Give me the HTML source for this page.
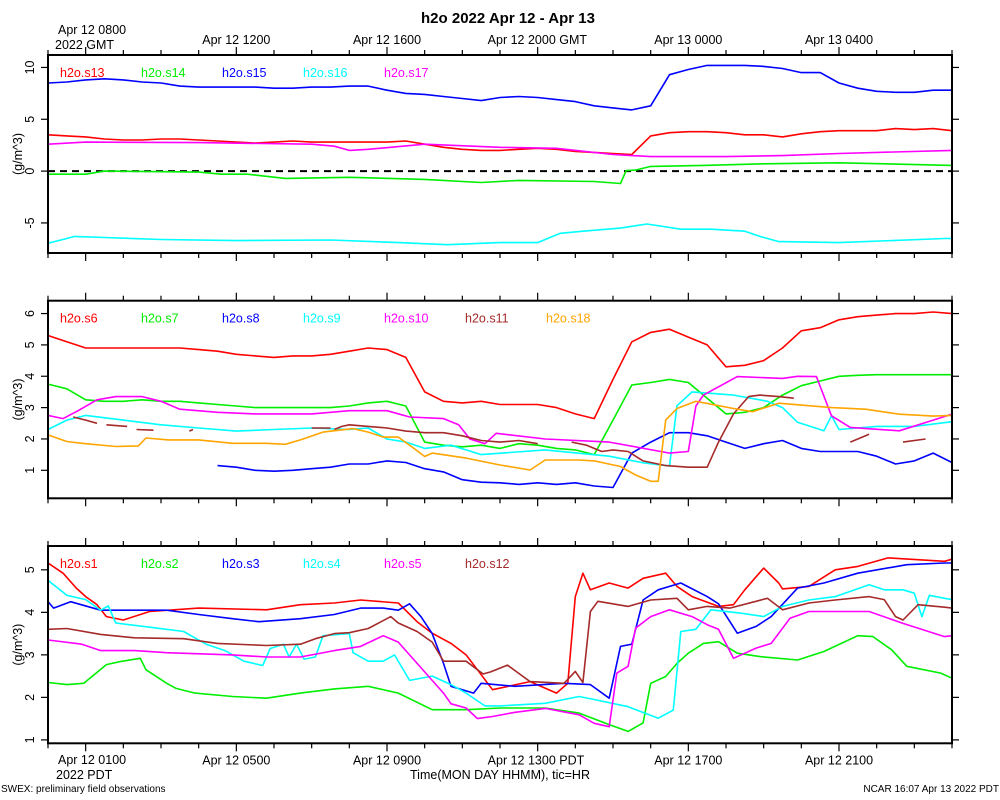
<!DOCTYPE html>
<html><head><meta charset="utf-8"><style>
html,body{margin:0;padding:0;background:#fff;}
svg{display:block;font-family:"Liberation Sans",sans-serif;}
</style></head><body>
<svg id="chart" width="1000" height="800" viewBox="0 0 1000 800" xmlns="http://www.w3.org/2000/svg">
<text x="508" y="23" font-size="15" font-weight="bold" text-anchor="middle">h2o 2022 Apr 12 - Apr 13</text>
<text x="58" y="34" font-size="12.5">Apr 12 0800</text>
<text x="55" y="49" font-size="12.5">2022 GMT</text>
<text x="58" y="764" font-size="12.5">Apr 12 0100</text>
<text x="56" y="779" font-size="12.5">2022 PDT</text>
<text x="500" y="779" font-size="12.5" text-anchor="middle">Time(MON DAY HHMM), tic=HR</text>
<text x="1" y="792" font-size="10">SWEX: preliminary field observations</text>
<text x="999" y="792" font-size="10" text-anchor="end">NCAR 16:07 Apr 13 2022 PDT</text>
<g id="plots"></g>
</svg>
<script>
// ---- shared x data ----
const halfHours = [0,0.5,1,1.5,2,2.5,3,3.5,4,4.5,5,5.5,6,6.5,7,7.5,8,8.5,9,9.5,10,10.5,11,11.5,12,12.5,13,13.5,14,14.5,15,15.5,16,16.5,17,17.5,18,18.5,19,19.5,20,20.5,21,21.5,22,22.5,23,23.5,24];
const topTickLabels = ["","Apr 12 1200","Apr 12 1600","Apr 12 2000 GMT","Apr 13 0000","Apr 13 0400"];
const bottomTickLabels = ["","Apr 12 0500","Apr 12 0900","Apr 12 1300 PDT","Apr 12 1700","Apr 12 2100"];

// ---- panel 1 ----
const p1Ticks = [10,5,0,-5];
const s13Vals = [3.5,3.4,3.3,3.1,3.0,3.0,3.1,3.1,3.0,2.9,2.8,2.7,2.8,2.9,2.8,2.8,2.8,2.8,2.8,2.9,2.6,2.3,2.1,2.0,2.0,2.1,2.2,2.1,1.9,1.8,1.7,1.6,3.4,3.7,3.8,3.8,3.7,3.5,3.5,3.3,3.6,3.8,3.9,3.9,3.9,4.1,4.0,4.1,3.9];
const s15Vals = [8.5,8.6,8.8,8.9,8.8,8.6,8.5,8.2,8.1,8.1,8.1,8.1,8.0,8.0,8.1,8.1,8.2,8.2,7.8,7.5,7.4,7.2,7.0,6.8,7.1,7.2,7.1,6.9,6.7,6.3,6.1,5.9,6.3,9.3,9.8,10.2,10.2,10.2,10.1,9.9,9.5,9.5,8.5,8.0,7.7,7.6,7.6,7.8,7.8];
const s14Hours = [0,1,1.5,4,4.6,5.3,6.3,8,10,11.5,12.5,14.5,15.2,15.35,15.6,16,17.4,19,21,24];
const s14Vals = [-0.3,-0.3,0,-0.1,-0.3,-0.3,-0.7,-0.6,-0.8,-1.1,-0.9,-1.0,-1.2,0.05,0.1,0.45,0.55,0.7,0.8,0.55];
const s16Hours = [0,0.5,0.7,1.5,3,5,7.5,9.3,10.6,12,13,13.6,14.2,15.2,15.9,16.8,17.6,18.5,18.9,19.4,21,23.8,24];
const s16Vals = [-6.95,-6.5,-6.3,-6.4,-6.6,-6.7,-6.65,-6.9,-7.1,-6.9,-6.9,-6.0,-5.8,-5.5,-5.1,-5.6,-5.6,-5.8,-6.3,-6.8,-6.9,-6.5,-6.5];
const s17Hours = [0,1,4,7,7.6,8,8.5,10,12,13.5,15,16,18,19.5,21,24];
const s17Vals = [2.6,2.8,2.75,2.6,2.4,2.0,2.1,2.6,2.3,2.2,1.6,1.4,1.4,1.5,1.7,2.0];

// ---- panel 2 ----
const p2Ticks = [6,5,4,3,2,1];
const s6Vals = [5.3,5.1,4.9,4.9,4.9,4.9,4.9,4.9,4.85,4.8,4.7,4.65,4.6,4.65,4.65,4.7,4.8,4.9,4.85,4.6,3.5,3.2,3.15,3.2,3.1,3.1,3.1,3.0,2.8,2.65,3.9,5.1,5.4,5.5,5.25,5.0,4.3,4.35,4.5,4.9,5.45,5.55,5.8,5.9,5.95,6.0,6.0,6.05,6.0];
const s7Vals = [3.75,3.6,3.25,3.2,3.2,3.25,3.2,3.2,3.15,3.1,3.05,3.0,3.0,3.0,3.0,3.0,3.05,3.15,3.2,3.05,1.9,1.8,1.75,1.8,1.7,1.85,1.8,1.7,1.65,1.5,2.6,3.72,3.8,3.9,3.8,3.3,2.8,2.85,3.0,3.4,3.7,3.85,4.0,4.03,4.05,4.05,4.05,4.05,4.05];
const s8Vals = [null,null,null,null,null,null,null,null,null,1.15,1.1,1.0,0.97,1.0,1.05,1.1,1.2,1.2,1.3,1.25,1.05,0.95,0.7,0.62,0.6,0.55,0.6,0.55,0.6,0.5,0.45,1.55,1.9,2.2,2.2,2.1,1.9,1.7,1.85,1.95,1.7,1.6,1.6,1.6,1.45,1.2,1.3,1.55,1.25];
const s9Hours = [0,0.5,1,2,3,4,5,6,7,8,8.5,9,9.5,10,10.7,11.5,13.2,14.9,15.8,16.5,16.7,17.1,18.2,19.1,19.5,19.9,20.6,20.8,21,22,23,24];
const s9Vals = [2.3,2.6,2.75,2.6,2.45,2.35,2.25,2.3,2.35,2.3,2.35,2.0,1.9,1.7,1.8,1.5,1.65,1.45,1.24,1.14,3.06,3.5,3.4,3.2,3.0,2.53,2.26,2.74,2.3,2.4,2.4,2.55];
const s10Hours = [0,0.4,0.8,1.3,1.8,2.5,3,3.5,4.5,5.5,7,8,9,9.6,10.5,10.9,11.2,11.6,11.9,13.2,14.9,16.5,17,17.2,17.4,18.3,19.5,19.9,20.4,20.8,21.3,22.6,23.5,24];
const s10Vals = [2.75,2.65,2.9,3.25,3.35,3.35,3.2,2.95,2.85,2.8,2.8,2.9,2.9,2.7,2.65,2.45,2.0,1.85,2.18,2.0,1.9,1.55,1.6,3.05,3.4,3.99,3.93,4.0,3.99,2.74,2.37,2.26,2.6,2.79];
const s11Hours = [0.67,1.0,1.3,null,1.55,2.1,null,2.35,2.8,null,3.75,3.85,null,7.0,7.5,null,7.6,7.8,8.0,8.5,9.0,9.5,10.0,10.5,11.0,11.5,12,12.5,13,null,13.9,14.3,14.7,15.0,15.4,15.8,16.4,17.0,17.5,17.8,18.2,18.6,18.9,19.4,19.8,null,21.3,21.8,null,22.7,23.3];
const s11Vals = [2.7,2.6,2.5,null,2.45,2.4,null,2.3,2.28,null,2.25,2.3,null,2.35,2.35,null,2.3,2.4,2.45,2.4,2.35,2.25,2.2,2.2,2.1,1.95,1.9,1.95,1.85,null,1.9,1.8,1.6,1.65,1.6,1.3,1.15,1.1,1.1,1.9,2.8,3.35,3.4,3.35,3.3,null,1.9,2.15,null,1.9,2.0];
const s18Hours = [0,0.5,0.9,1.8,2.4,2.6,3.2,4,4.9,5.8,6.3,6.7,7.3,8.1,8.5,8.9,9.3,9.7,10,10.2,11.1,12,12.8,13.2,14.1,14.5,15.2,15.6,16.0,16.2,16.4,16.7,17.2,18.2,18.7,19.4,20.8,21.7,22.6,23.5,24];
const s18Vals = [2.13,1.92,1.86,1.76,1.78,2.03,1.97,1.97,1.86,1.86,1.83,1.97,2.22,2.33,2.22,2.06,2.06,1.71,1.44,1.55,1.39,1.17,1.01,1.33,1.33,1.3,1.12,0.85,0.65,0.65,2.6,2.97,3.2,2.97,2.87,3.14,3.0,2.95,2.79,2.73,2.75];

// ---- panel 3 ----
const p3Ticks = [5,4,3,2,1];
const s1Hours = [0,0.4,0.75,1,1.3,1.55,2,2.7,4,5.8,6.7,7.6,8.3,9.3,9.8,10.2,10.7,11.1,11.4,11.8,12.8,13.5,13.8,14.0,14.2,14.4,14.9,15.4,15.8,16.4,16.7,17.1,17.8,18.2,18.5,19,19.4,19.5,20.2,20.9,21.5,22.3,23.8,24];
const s1Vals = [5.16,4.92,4.57,4.37,4.18,3.9,3.82,4.02,4.1,4.06,4.18,4.22,4.29,4.22,3.78,3.51,3.27,3.0,2.65,2.18,2.37,2.1,2.33,4.37,4.92,4.53,4.69,4.57,4.8,4.92,4.61,4.37,4.14,4.18,4.53,5.04,4.69,4.55,4.61,5.0,5.08,5.28,5.2,5.25];
const s2Hours = [0,0.5,0.95,1.55,1.9,2.45,2.6,3.15,3.4,3.9,4.9,5.8,6.7,7.6,8.5,9.3,10.2,11.1,12,13.2,14.1,14.9,15.4,15.8,16,16.4,16.7,17,17.4,17.8,18.3,18.9,19.9,20.6,21.5,21.9,22.4,22.8,23.7,24];
const s2Vals = [2.35,2.3,2.33,2.77,2.84,2.92,2.65,2.33,2.21,2.1,2.02,1.98,2.1,2.2,2.26,2.1,1.71,1.71,1.75,1.75,1.63,1.36,1.2,1.4,2.33,2.49,2.8,3.04,3.27,3.31,3.04,2.96,2.88,3.08,3.45,3.43,3.12,2.73,2.57,2.45];
const s3Hours = [0,0.15,0.6,1.4,2.3,3.15,4,4.9,5.6,6.7,7.6,8.3,8.9,9.3,9.6,9.9,10.2,10.5,10.7,11.3,11.5,12.4,13.7,14.4,14.9,15.2,15.5,15.8,16.2,16.8,17.5,17.8,18.3,18.8,19.2,19.9,20.6,21.5,22.8,23.8,24];
const s3Vals = [4.25,4.1,4.25,4.05,4.05,4.05,3.95,3.85,3.78,3.85,3.95,4.1,4.1,4.05,4.2,3.9,3.5,2.8,2.26,2.1,2.33,2.26,2.33,2.3,1.98,3.2,3.25,4.29,4.53,4.69,4.37,4.2,3.51,3.67,3.9,4.57,4.69,4.92,5.12,5.16,5.16];
const s4Hours = [0,0.5,1,1.4,1.6,1.8,2.7,3.6,4.2,4.7,5.2,5.7,5.9,6.25,6.4,6.6,6.8,7.1,7.3,8.0,8.1,8.5,8.9,9.2,9.6,10.2,10.7,11.1,11.6,12,13.2,14.1,14.5,15.4,16.2,16.6,16.8,17.2,17.6,18.4,19,19.5,20.2,20.9,21.8,22.2,22.7,23.0,23.2,23.4,23.8,24];
const s4Vals = [4.75,4.4,4.3,4.05,4.15,3.75,3.65,3.55,3.25,3.1,2.85,2.75,3.15,3.25,2.95,3.25,2.9,2.95,3.45,3.5,3.05,2.85,2.85,3.0,2.4,2.5,2.3,2.1,1.8,1.8,1.86,2.02,1.95,1.78,1.51,1.7,3.55,3.6,4.06,3.98,3.9,4.14,4.29,4.37,4.65,4.53,4.53,4.45,3.9,4.4,4.33,4.3];
const s5Hours = [0,0.9,1.4,2.3,3.15,4.9,5.8,6.7,7.6,8.3,8.9,9.3,9.8,10.2,10.5,10.7,11.1,11.4,11.8,12.4,13.2,14.1,14.5,14.9,15.1,15.4,15.6,16.0,16.5,17.1,17.5,17.8,18.2,18.8,19.2,19.7,20.2,20.9,21.8,22.7,23.8,24];
const s5Vals = [3.35,3.25,3.1,3.1,3.05,3.0,2.95,2.95,3.1,3.2,3.45,3.3,2.8,2.4,2.1,1.85,1.75,1.5,1.55,1.65,1.74,1.59,1.39,1.31,2.57,2.73,3.63,3.9,4.06,3.9,3.71,3.6,2.92,3.16,3.27,3.86,4.02,4.02,4.02,3.74,3.43,3.45];
const s12Hours = [0,0.5,1.4,2.3,3.6,4.5,5.8,6.7,7.1,7.6,8.0,8.5,9.1,9.3,9.8,10.2,10.5,11.1,11.55,11.75,12.2,12.8,13.7,14.0,14.2,14.4,14.6,15.4,16,16.7,17,17.5,18.1,18.8,19.1,19.5,20.2,20.9,21.8,22.2,22.5,22.7,23.1,23.8,24];
const s12Vals = [3.6,3.62,3.48,3.4,3.38,3.27,3.22,3.25,3.38,3.5,3.52,3.62,3.9,3.75,3.55,3.3,2.85,2.85,2.55,2.6,2.76,2.37,2.33,2.61,2.35,4.02,4.26,4.14,4.29,4.33,4.06,4.14,4.1,4.26,4.33,4.06,4.22,4.29,4.37,4.3,3.9,3.82,4.18,4.12,4.1];

// ---- drawing ----
const NS = "http://www.w3.org/2000/svg";
const root = document.getElementById("plots");
const X0 = 48, X1 = 952, HSPAN = 24;
function xScale(h){ return X0 + (h / HSPAN) * (X1 - X0); }
function mk(tag, attrs, parent){
  const e = document.createElementNS(NS, tag);
  for (const k in attrs) e.setAttribute(k, attrs[k]);
  (parent || root).appendChild(e);
  return e;
}
const COLORS = {red:"#ff0000",green:"#00ee00",blue:"#0000ff",cyan:"#00ffff",magenta:"#ff00ff",brown:"#a52a2a",orange:"#ffa500"};

function drawPanel(p){
  const g = mk("g", {});
  
  
  const yScale = v => p.top + (p.ymax - v) / (p.ymax - p.ymin) * (p.bottom - p.top);
  // x ticks
  for (let h = 0; h <= 24; h++){
    const x = xScale(h);
    const major = (h % 4 === 1);
    const len = major ? 8 : 5;
    const t1 = mk("line", {x1:x, x2:x, y1:p.top, y2:p.top - len, stroke:"#000", "stroke-width":1.2}, g);
    
    
    const t2 = mk("line", {x1:x, x2:x, y1:p.bottom, y2:p.bottom + len, stroke:"#000", "stroke-width":1.2}, g);
    
    
    if (major && p.topLabels && h > 1){
      const tl = mk("text", {x: (h===13? x-50 : x), y: p.top - 11, "font-size":12.5, "text-anchor": (h===13?"start":"middle")}, g);
      tl.textContent = p.topLabels[(h - 1) / 4];
      
      
    }
    if (major && p.bottomLabels && h > 1){
      const bl = mk("text", {x: (h===13? x-50 : x), y: p.bottom + 21, "font-size":12.5, "text-anchor": (h===13?"start":"middle")}, g);
      bl.textContent = p.bottomLabels[(h - 1) / 4];
      
      
    }
  }
  // y ticks
  p.ticks.forEach(v => {
    const y = yScale(v);
    const a = mk("line", {x1:X0 - 7, x2:X0, y1:y, y2:y, stroke:"#000", "stroke-width":1.2}, g);
    
    
    const b = mk("line", {x1:X1, x2:X1 + 7, y1:y, y2:y, stroke:"#000", "stroke-width":1.2}, g);
    
    
    const t = mk("text", {x:0, y:0, "font-size":12.5, "text-anchor":"middle", transform:`translate(34,${y}) rotate(-90)`}, g);
    t.textContent = String(v);
    
    
  });
  const yl = mk("text", {x:0, y:0, "font-size":12.5, "text-anchor":"middle", transform:`translate(22,${(p.top + p.bottom)/2}) rotate(-90)`}, g);
  yl.textContent = "(g/m^3)";
  
  
  // clip
  const cid = "clip-" + p.name;
  const cp = mk("clipPath", {id:cid}, g);
  mk("rect", {x:X0, y:p.top, width:X1 - X0, height:p.bottom - p.top}, cp);
  if (p.zeroLine){
    const z = mk("line", {x1:X0, x2:X1, y1:yScale(0), y2:yScale(0), stroke:"#000", "stroke-width":2, "stroke-dasharray":"7,5"}, g);
    
    
  }
  p.series.forEach((s, i) => {
    let d = "", pen = false;
    for (let k = 0; k < s.vals.length; k++){
      const hv = s.hours[k], v = s.vals[k];
      if (hv === null || v === null || hv === undefined){ pen = false; continue; }
      d += (pen ? "L" : "M") + xScale(hv).toFixed(1) + "," + yScale(v).toFixed(1);
      pen = true;
    }
    const path = mk("path", {d:d, fill:"none", stroke:COLORS[s.color], "stroke-width":1.6, "stroke-linejoin":"round", "clip-path":`url(#${cid})`}, g);
    
    
    const lg = mk("text", {x: 60 + i * 81, y: p.top + 22, "font-size":12.5, fill:COLORS[s.color]}, g);
    lg.textContent = s.label;
    
    
  });
  const fr = mk("rect", {x:X0, y:p.top, width:X1 - X0, height:p.bottom - p.top, fill:"none", stroke:"#000", "stroke-width":2}, g);
  
  
}

drawPanel({name:"panel-top", top:55, bottom:253, ymin:-7.9, ymax:11.2, ticks:p1Ticks, zeroLine:true, topLabels:topTickLabels,
  series:[
    {label:"h2o.s13", color:"red", hours:halfHours, vals:s13Vals},
    {label:"h2o.s14", color:"green", hours:s14Hours, vals:s14Vals},
    {label:"h2o.s15", color:"blue", hours:halfHours, vals:s15Vals},
    {label:"h2o.s16", color:"cyan", hours:s16Hours, vals:s16Vals},
    {label:"h2o.s17", color:"magenta", hours:s17Hours, vals:s17Vals}
  ]});
drawPanel({name:"panel-middle", top:300.7, bottom:498.3, ymin:0.107, ymax:6.41, ticks:p2Ticks,
  series:[
    {label:"h2o.s6", color:"red", hours:halfHours, vals:s6Vals},
    {label:"h2o.s7", color:"green", hours:halfHours, vals:s7Vals},
    {label:"h2o.s8", color:"blue", hours:halfHours, vals:s8Vals},
    {label:"h2o.s9", color:"cyan", hours:s9Hours, vals:s9Vals},
    {label:"h2o.s10", color:"magenta", hours:s10Hours, vals:s10Vals},
    {label:"h2o.s11", color:"brown", hours:s11Hours, vals:s11Vals},
    {label:"h2o.s18", color:"orange", hours:s18Hours, vals:s18Vals}
  ]});
drawPanel({name:"panel-bottom", top:546, bottom:743.3, ymin:0.92, ymax:5.56, ticks:p3Ticks, bottomLabels:bottomTickLabels,
  series:[
    {label:"h2o.s1", color:"red", hours:s1Hours, vals:s1Vals},
    {label:"h2o.s2", color:"green", hours:s2Hours, vals:s2Vals},
    {label:"h2o.s3", color:"blue", hours:s3Hours, vals:s3Vals},
    {label:"h2o.s4", color:"cyan", hours:s4Hours, vals:s4Vals},
    {label:"h2o.s5", color:"magenta", hours:s5Hours, vals:s5Vals},
    {label:"h2o.s12", color:"brown", hours:s12Hours, vals:s12Vals}
  ]});
</script>
</body></html>
